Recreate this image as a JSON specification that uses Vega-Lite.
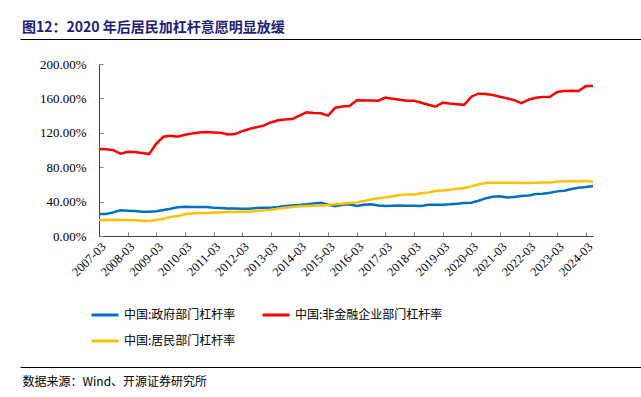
{
  "$schema": "https://vega.github.io/schema/vega-lite/v6.json",
  "width": 494,
  "height": 172,
  "autosize": {"type": "none"},
  "padding": {"left": 99, "top": 64, "right": 48, "bottom": 161},
  "background": "white",
  "config": {"view": {"stroke": null}, "font": "Noto Sans CJK SC"},
  "title": {
    "text": "图12：2020 年后居民加杠杆意愿明显放缓",
    "anchor": "start",
    "frame": "group",
    "dx": -77,
    "offset": 4,
    "font": "Noto Sans CJK SC",
    "fontSize": 14,
    "fontWeight": "bold",
    "color": "#20207A"
  },
  "data": {"values": [
    {"d":"2007-03","g":25.6,"n":101.1,"h":18.2},
    {"d":"2007-06","g":25.6,"n":101.0,"h":18.6},
    {"d":"2007-09","g":27.5,"n":99.9,"h":19.0},
    {"d":"2007-12","g":29.8,"n":95.6,"h":18.6},
    {"d":"2008-03","g":29.4,"n":98.0,"h":18.6},
    {"d":"2008-06","g":29.0,"n":97.6,"h":18.2},
    {"d":"2008-09","g":28.3,"n":96.4,"h":17.8},
    {"d":"2008-12","g":28.3,"n":95.3,"h":17.4},
    {"d":"2009-03","g":28.7,"n":107.6,"h":18.6},
    {"d":"2009-06","g":30.2,"n":115.4,"h":20.1},
    {"d":"2009-09","g":31.8,"n":116.5,"h":22.1},
    {"d":"2009-12","g":33.3,"n":115.4,"h":23.2},
    {"d":"2010-03","g":34.1,"n":117.7,"h":25.2},
    {"d":"2010-06","g":33.7,"n":119.3,"h":26.3},
    {"d":"2010-09","g":33.7,"n":120.4,"h":26.7},
    {"d":"2010-12","g":33.7,"n":120.8,"h":26.7},
    {"d":"2011-03","g":32.9,"n":120.4,"h":27.1},
    {"d":"2011-06","g":32.5,"n":120.0,"h":27.5},
    {"d":"2011-09","g":32.1,"n":118.1,"h":27.9},
    {"d":"2011-12","g":32.1,"n":118.5,"h":27.9},
    {"d":"2012-03","g":31.8,"n":122.0,"h":28.3},
    {"d":"2012-06","g":31.8,"n":124.5,"h":28.3},
    {"d":"2012-09","g":32.5,"n":126.5,"h":29.0},
    {"d":"2012-12","g":32.9,"n":128.3,"h":29.8},
    {"d":"2013-03","g":32.9,"n":132.0,"h":30.6},
    {"d":"2013-06","g":33.7,"n":134.5,"h":31.8},
    {"d":"2013-09","g":34.8,"n":135.5,"h":32.9},
    {"d":"2013-12","g":35.6,"n":136.0,"h":33.7},
    {"d":"2014-03","g":36.0,"n":140.0,"h":34.5},
    {"d":"2014-06","g":36.8,"n":143.8,"h":34.8},
    {"d":"2014-09","g":37.9,"n":143.0,"h":35.2},
    {"d":"2014-12","g":38.7,"n":142.6,"h":35.6},
    {"d":"2015-03","g":36.4,"n":140.0,"h":36.0},
    {"d":"2015-06","g":34.5,"n":149.2,"h":36.8},
    {"d":"2015-09","g":36.4,"n":150.5,"h":37.6},
    {"d":"2015-12","g":36.8,"n":151.2,"h":38.3},
    {"d":"2016-03","g":34.8,"n":157.8,"h":39.1},
    {"d":"2016-06","g":36.4,"n":157.6,"h":40.7},
    {"d":"2016-09","g":36.8,"n":157.6,"h":42.6},
    {"d":"2016-12","g":35.6,"n":157.4,"h":43.8},
    {"d":"2017-03","g":34.8,"n":161.0,"h":44.9},
    {"d":"2017-06","g":35.2,"n":159.7,"h":46.1},
    {"d":"2017-09","g":35.6,"n":158.5,"h":47.6},
    {"d":"2017-12","g":35.2,"n":157.2,"h":48.4},
    {"d":"2018-03","g":35.2,"n":157.4,"h":48.4},
    {"d":"2018-06","g":34.8,"n":155.0,"h":49.6},
    {"d":"2018-09","g":36.2,"n":152.7,"h":50.7},
    {"d":"2018-12","g":36.4,"n":150.4,"h":52.3},
    {"d":"2019-03","g":36.4,"n":155.0,"h":53.0},
    {"d":"2019-06","g":36.8,"n":154.0,"h":53.8},
    {"d":"2019-09","g":37.6,"n":153.3,"h":55.0},
    {"d":"2019-12","g":38.3,"n":152.5,"h":55.8},
    {"d":"2020-03","g":38.7,"n":162.0,"h":57.7},
    {"d":"2020-06","g":41.0,"n":165.5,"h":60.0},
    {"d":"2020-09","g":43.8,"n":165.1,"h":61.6},
    {"d":"2020-12","g":45.7,"n":164.0,"h":62.0},
    {"d":"2021-03","g":46.1,"n":162.0,"h":62.0},
    {"d":"2021-06","g":44.9,"n":160.0,"h":62.0},
    {"d":"2021-09","g":45.3,"n":158.0,"h":62.0},
    {"d":"2021-12","g":46.5,"n":154.5,"h":61.6},
    {"d":"2022-03","g":47.2,"n":158.5,"h":61.6},
    {"d":"2022-06","g":48.8,"n":160.8,"h":62.0},
    {"d":"2022-09","g":49.2,"n":161.5,"h":62.3},
    {"d":"2022-12","g":50.3,"n":162.0,"h":62.3},
    {"d":"2023-03","g":51.9,"n":167.5,"h":63.5},
    {"d":"2023-06","g":52.7,"n":168.5,"h":63.5},
    {"d":"2023-09","g":54.6,"n":169.0,"h":63.9},
    {"d":"2023-12","g":56.1,"n":168.5,"h":63.5},
    {"d":"2024-03","g":56.9,"n":174.3,"h":63.9},
    {"d":"2024-06","g":58.1,"n":174.4,"h":63.1}
  ]},
  "transform": [{"fold": ["g", "n", "h"], "as": ["k", "v"]}],
  "layer": [
    {
      "mark": {"type": "line", "strokeWidth": 2.5},
      "encoding": {
        "x": {
          "field": "d", "type": "ordinal",
          "scale": {"type": "point", "padding": 0},
          "axis": {
            "title": null,
            "values": ["2007-03","2008-03","2009-03","2010-03","2011-03","2012-03","2013-03","2014-03","2015-03","2016-03","2017-03","2018-03","2019-03","2020-03","2021-03","2022-03","2023-03","2024-03"],
            "labelAngle": -45,
            "labelAlign": "right",
            "labelBaseline": "top",
            "labelFont": "Liberation Serif",
            "labelFontSize": 12.5,
            "labelColor": "#000000",
            "labelPadding": 8,
            "labelOverlap": false,
            "tickSize": -4,
            "tickColor": "#808080",
            "domainColor": "#404040",
            "grid": false
          }
        },
        "y": {
          "field": "v", "type": "quantitative",
          "scale": {"domain": [0, 200], "nice": false},
          "axis": {
            "title": null,
            "values": [0, 40, 80, 120, 160, 200],
            "labelExpr": "format(datum.value, '.2f') + '%'",
            "labelFont": "Liberation Serif",
            "labelFontSize": 13,
            "labelColor": "#000000",
            "labelPadding": 17,
            "labelOverlap": false,
            "labelFlush": false,
            "labelBound": false,
            "tickSize": -4,
            "tickColor": "#808080",
            "domainColor": "#404040",
            "grid": false
          }
        },
        "color": {
          "field": "k", "type": "nominal",
          "scale": {"domain": ["g", "n", "h"], "range": ["#0070C0", "#FF0000", "#FFC000"]},
          "legend": {
            "title": null,
            "orient": "none",
            "legendX": -9,
            "legendY": 236,
            "direction": "horizontal",
            "columns": 2,
            "padding": 0,
            "symbolType": "stroke",
            "symbolSize": 729,
            "symbolStrokeWidth": 3,
            "labelFont": "Noto Sans CJK SC",
            "labelFontSize": 12,
            "labelColor": "#000000",
            "labelOffset": 4,
            "columnPadding": 20,
            "rowPadding": 5,
            "labelExpr": "datum.value == 'g' ? '中国:政府部门杠杆率' : datum.value == 'n' ? '中国:非金融企业部门杠杆率' : '中国:居民部门杠杆率'"
          }
        }
      }
    },
    {
      "mark": {"type": "rule", "opacity": 0},
      "encoding": {
        "x": {
          "field": "d", "type": "ordinal",
          "scale": {"type": "point", "padding": 0, "range": [-79, 542]},
          "axis": {"orient": "top", "offset": 25, "labels": false, "ticks": false, "grid": false, "title": null, "domainColor": "#000000", "domainWidth": 1}
        }
      }
    },
    {
      "mark": {"type": "rule", "opacity": 0},
      "encoding": {
        "x": {
          "field": "d", "type": "ordinal",
          "scale": {"type": "point", "padding": 0, "range": [-79, 542]},
          "axis": {
            "orient": "bottom", "offset": 131, "labels": false, "ticks": false, "grid": false,
            "domainColor": "#000000", "domainWidth": 1,
            "title": "数据来源：Wind、开源证券研究所",
            "titleX": -77, "titleY": 14,
            "titleAlign": "left", "titleAnchor": null, "titleBaseline": "middle", "titleAngle": 0,
            "titleFont": "Noto Sans CJK SC", "titleFontSize": 12, "titleFontWeight": "normal", "titleColor": "#000000"
          }
        }
      }
    }
  ],
  "resolve": {"scale": {"x": "independent"}, "axis": {"x": "independent"}}
}
